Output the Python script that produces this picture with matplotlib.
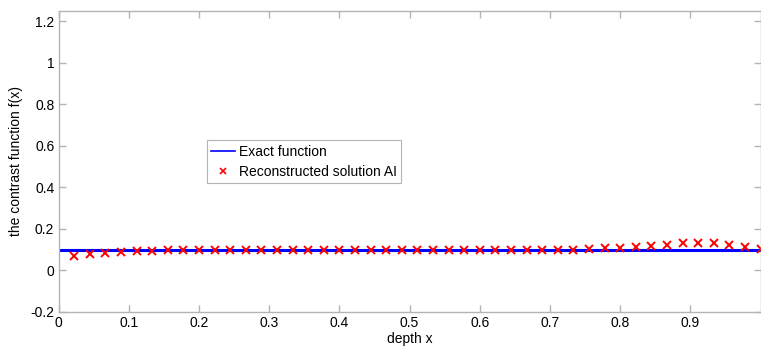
import matplotlib
matplotlib.use('Agg')
import matplotlib.pyplot as plt
import numpy as np

# exact contrast function (constant)
exact_x = [0.0, 1.0]
exact_y = [0.1, 0.1]

# reconstructed solution (k/45, k=1..45)
recon_x = np.arange(1, 46) / 45.0
recon_y = [0.072, 0.079, 0.085, 0.090, 0.094, 0.096, 0.097, 0.098, 0.098, 0.098,
           0.098, 0.098, 0.098, 0.098, 0.098, 0.098, 0.098, 0.098, 0.098, 0.098,
           0.098, 0.098, 0.098, 0.098, 0.098, 0.098, 0.099, 0.099, 0.099, 0.099,
           0.100, 0.100, 0.101, 0.103, 0.106, 0.109, 0.114, 0.119, 0.125, 0.130,
           0.134, 0.132, 0.125, 0.115, 0.105]

xticks = [0, 0.1, 0.2, 0.3, 0.4, 0.5, 0.6, 0.7, 0.8, 0.9]
xticklabels = ['0', '0.1', '0.2', '0.3', '0.4', '0.5', '0.6', '0.7', '0.8', '0.9']
yticks = [-0.2, 0, 0.2, 0.4, 0.6, 0.8, 1.0, 1.2]
yticklabels = ['-0.2', '0', '0.2', '0.4', '0.6', '0.8', '1', '1.2']


def main():
    plt.rcParams['font.family'] = ['Liberation Sans', 'DejaVu Sans']
    plt.rcParams['font.size'] = 10
    grey = '#b4b4b4'

    fig = plt.figure(figsize=(7.61, 3.5), dpi=100)
    ax = fig.add_axes([0.0769, 0.1086, 0.9225, 0.86])

    ax.plot(exact_x, exact_y, color='#0000ff', lw=2.2, label='Exact function')
    ax.plot(recon_x, recon_y, 'x', color='#ff0000', ms=6.3, mew=1.4,
            label='Reconstructed solution AI')

    ax.set_xlim(0, 1)
    ax.set_ylim(-0.2, 1.25)
    ax.set_xticks(xticks)
    ax.set_xticklabels(xticklabels)
    ax.set_yticks(yticks)
    ax.set_yticklabels(yticklabels)

    for sp in ax.spines.values():
        sp.set_color(grey)
        sp.set_linewidth(1.0)
    ax.tick_params(direction='in', length=5, width=1, color=grey,
                   top=True, right=True, labelsize=10, pad=3)

    ax.set_xlabel('depth x', fontsize=10, labelpad=1)
    ax.set_ylabel('the contrast function f(x)', fontsize=10, labelpad=5)

    leg = ax.legend(loc='lower left', bbox_to_anchor=(0.2115, 0.4286),
                    borderaxespad=0, fancybox=False, framealpha=1,
                    handlelength=1.7, handletextpad=0.3, labelspacing=0.45,
                    borderpad=0.3, fontsize=10)
    leg.get_frame().set_edgecolor(grey)
    leg.get_frame().set_linewidth(0.8)
    leg.legend_handles[0].set_linewidth(1.2)
    leg.legend_handles[1].set_markersize(5)
    leg.legend_handles[1].set_markeredgewidth(1.2)

    fig.savefig('out.png', dpi=100)


if __name__ == '__main__':
    main()
